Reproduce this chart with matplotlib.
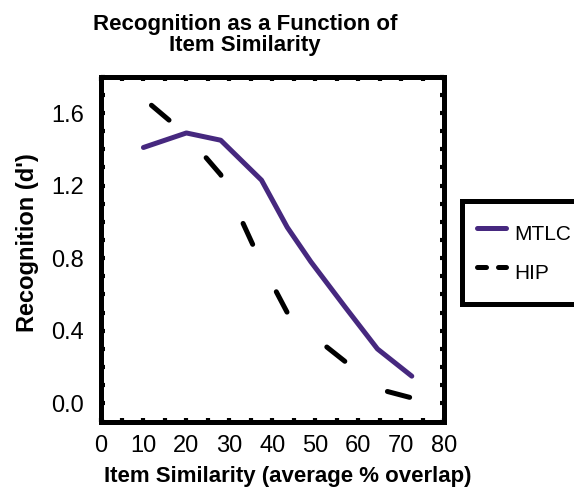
import matplotlib
matplotlib.use("Agg")
import matplotlib.pyplot as plt
from matplotlib.lines import Line2D
from matplotlib.ticker import MultipleLocator, FormatStrFormatter

plt.rcParams['font.family'] = ['Liberation Sans', 'DejaVu Sans']

similarity = [10, 20, 28, 37.5, 43.5, 49, 57, 64.5, 72.5]
mtlc = [1.41, 1.49, 1.45, 1.23, 0.97, 0.78, 0.53, 0.30, 0.15]
hip = [1.68, 1.48, 1.26, 0.77, 0.50, 0.38, 0.23, 0.08, 0.03]

purple = '#46287f'

fig = plt.figure(figsize=(5.74, 4.93), dpi=100)
ax = fig.add_axes([0.1751, 0.145, 0.5984, 0.6994])

lw = 3.6
ax.plot(similarity, mtlc, color=purple, lw=lw, solid_capstyle='round', solid_joinstyle='round')
ax.plot(similarity, hip, color='black', lw=lw, linestyle=(13.1, (4.6, 10.6)), dash_capstyle='round')

ax.set_xlim(0, 80)
ax.set_ylim(-0.1, 1.8)
ax.xaxis.set_major_locator(MultipleLocator(10))
ax.xaxis.set_minor_locator(MultipleLocator(5))
ax.yaxis.set_major_locator(MultipleLocator(0.4))
ax.yaxis.set_minor_locator(MultipleLocator(0.1))
ax.yaxis.set_major_formatter(FormatStrFormatter('%.1f'))

for s in ax.spines.values():
    s.set_linewidth(3.6)
ax.tick_params(which='both', direction='in', top=True, right=True, length=3, width=3, labelsize=17)
ax.tick_params(axis='x', which='major', pad=10)
ax.tick_params(axis='y', which='major', pad=12)

fig.text(245/574, 1-51/493, 'Recognition as a Function of\nItem Similarity', ha='center', va='baseline',
         fontsize=16, fontweight='bold', linespacing=1.0)
fig.text(288/574, 1-481.7/493, 'Item Similarity (average % overlap)', ha='center', va='baseline',
         fontsize=16, fontweight='bold')
fig.text(28/574, 1-243/493, "Recognition (d')", ha='center', va='center', rotation=90,
         fontsize=17, fontweight='bold')

handles = [Line2D([], [], color=purple, lw=lw, solid_capstyle='round'),
           Line2D([], [], color='black', lw=lw, dashes=(1.8, 2.4), dash_capstyle='round')]
leg = fig.legend(handles, ['MTLC', 'HIP'], loc='upper left', bbox_to_anchor=(462/574, 1-201/493),
                 fontsize=15, handlelength=1.4, handleheight=2.2, handletextpad=0.43, labelspacing=0.2,
                 borderpad=0.7, frameon=True, fancybox=False, borderaxespad=0, framealpha=1)
leg.get_frame().set_edgecolor('black')
leg.get_frame().set_linewidth(3.6)

fig.savefig('out.png', dpi=100)
